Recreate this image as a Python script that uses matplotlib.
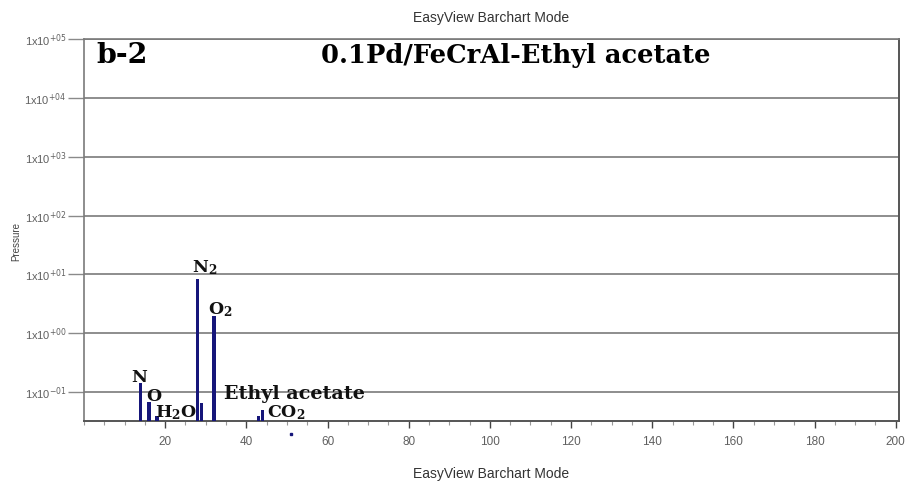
import numpy as np
import matplotlib.pyplot as plt
from matplotlib.ticker import FixedLocator, MultipleLocator

# mass spectrum peaks (m/z, pressure)
masses = [14, 16, 18, 28, 29, 32, 43, 44]
pressures = [0.142, 0.068, 0.038, 8.5, 0.065, 1.95, 0.039, 0.048]
stray_mass = [51]
stray_pressure = [0.0195]

ytick_vals = [1e-1, 1e0, 1e1, 1e2, 1e3, 1e4, 1e5]
ytick_text = ['1x10$^{-01}$', '1x10$^{+00}$', '1x10$^{+01}$', '1x10$^{+02}$',
              '1x10$^{+03}$', '1x10$^{+04}$', '1x10$^{+05}$']

BAR = '#16167a'
GREY = '#606060'
SERIF = 'DejaVu Serif'

fig = plt.figure(figsize=(9.06, 4.84), dpi=100)
ax = fig.add_axes([84 / 906, 63 / 484, 815 / 906, 382 / 484])

ax.bar(masses, pressures, width=0.8, color=BAR, bottom=1e-3, zorder=3)
ax.plot(stray_mass, stray_pressure, 's', ms=2, color=BAR, clip_on=False)

ax.set_yscale('log')
ax.set_ylim(10 ** -1.49, 1e5)
ax.set_xlim(0, 200.8)

ax.yaxis.set_major_locator(FixedLocator(ytick_vals))
ax.yaxis.set_minor_locator(FixedLocator([]))
ax.set_yticklabels(ytick_text, fontsize=8, color=GREY, family='Liberation Sans')
ax.tick_params(axis='y', length=11.5, width=1, color='#8a8a8a', pad=1)
ax.grid(axis='y', color='#7a7a7a', lw=1.2, zorder=1)

ax.xaxis.set_major_locator(MultipleLocator(20))
ax.xaxis.set_minor_locator(MultipleLocator(5))
ax.set_xticks(np.arange(20, 201, 20))
ax.tick_params(axis='x', which='major', length=5, width=1, color='#444444',
               labelsize=8.5, labelcolor=GREY, pad=6)
ax.tick_params(axis='x', which='minor', length=3, width=0.8, color='#999999')
for lbl in ax.get_xticklabels():
    lbl.set_family('Liberation Sans')

for side in ['left', 'top']:
    ax.spines[side].set_color('#7a7a7a')
    ax.spines[side].set_linewidth(1.2)
ax.spines['right'].set_color('#555555')
ax.spines['bottom'].set_color('#555555')
ax.spines['right'].set_linewidth(1.4)
ax.spines['bottom'].set_linewidth(1.4)

ax.set_ylabel('Pressure', fontsize=7, color='#444444', family='Liberation Sans', labelpad=2)
ax.yaxis.set_label_coords(-0.077, 0.47)

fig.text(0.542, 0.963, 'EasyView Barchart Mode', ha='center', va='center',
         fontsize=10, color='#333333', family='Liberation Sans')
fig.text(0.542, 0.02, 'EasyView Barchart Mode', ha='center', va='center',
         fontsize=10, color='#333333', family='Liberation Sans')

# panel tag and title
ax.text(0.0147, 0.937, 'b-2', transform=ax.transAxes, ha='left', va='baseline',
        fontsize=20.5, fontweight='bold', family=SERIF)
ax.text(0.530, 0.937, '0.1Pd/FeCrAl-Ethyl acetate', transform=ax.transAxes,
        ha='center', va='baseline', fontsize=18.5, fontweight='bold', family=SERIF)

# peak labels
lab = dict(fontsize=12.5, fontweight='bold', family=SERIF, color='#111111',
           va='baseline', math_fontfamily='dejavuserif')
ax.text(13.7, 0.148, 'N', ha='center', **lab)
ax.text(15.3, 0.070, 'O', ha='left', **lab)
ax.text(17.5, 0.0376, r'H$\mathbf{_2}$O', ha='left', **lab)
ax.text(26.6, 10.9, r'N$\mathbf{_2}$', ha='left', **lab)
ax.text(30.5, 2.12, r'O$\mathbf{_2}$', ha='left', **lab)
ax.text(34.5, 0.076, 'Ethyl acetate', ha='left', fontsize=13.8,
        **{k: v for k, v in lab.items() if k != 'fontsize'})
ax.text(45.1, 0.0376, r'CO$\mathbf{_2}$', ha='left', **lab)

fig.savefig('out.png', dpi=100)
